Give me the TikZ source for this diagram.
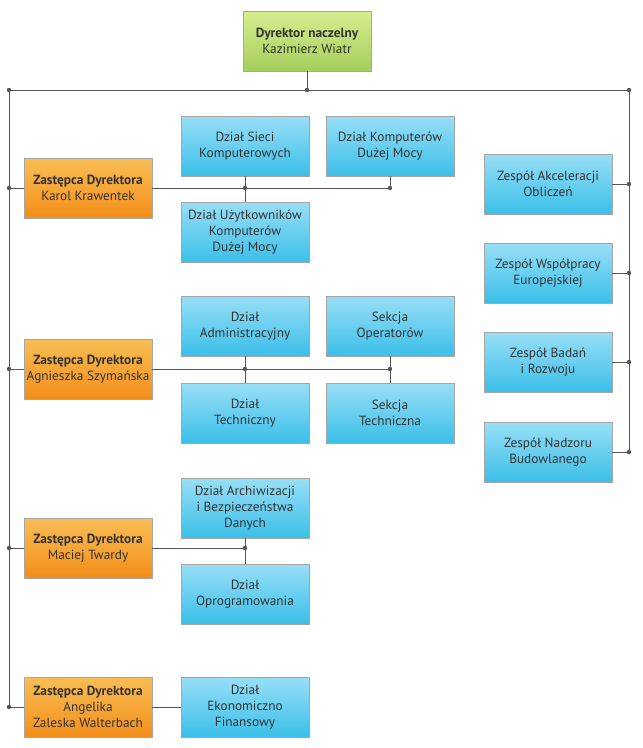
\documentclass[tikz,border=0pt]{standalone}
\usepackage{fontspec}
\setmainfont{PT Sans}
\usetikzlibrary{shadows}
\definecolor{zielonyG}{HTML}{D6EE90}
\definecolor{zielonyD}{HTML}{A5CE5C}
\definecolor{pomaranczG}{HTML}{F9BE55}
\definecolor{pomaranczD}{HTML}{F38E1A}
\definecolor{niebieskiG}{HTML}{98DFF6}
\definecolor{niebieskiD}{HTML}{3BBFE9}
\definecolor{liniaK}{HTML}{555555}
\tikzset{
  box/.style={minimum width=128pt, minimum height=60pt, inner sep=0pt, align=center,
    draw=black!35, line width=0.6pt, text=black!80, font=\fontsize{13.3}{16.3}\selectfont,
    drop shadow={shadow xshift=1.3pt, shadow yshift=-1.3pt, opacity=0.35, fill=black}},
  dyrektor/.style={box, top color=zielonyG, bottom color=zielonyD},
  zastepca/.style={box, top color=pomaranczG, bottom color=pomaranczD},
  dzial/.style={box, top color=niebieskiG, bottom color=niebieskiD},
  linia/.style={draw=liniaK, line width=0.8pt},
  kropka/.style={fill=liniaK}
}
\begin{document}
\begin{tikzpicture}[x=1pt, y=-1pt]
\useasboundingbox (0,0) rectangle (643,748);
\node[dyrektor] (dyr) at (307,41) {\textbf{Dyrektor naczelny}\\Kazimierz Wiatr};

\node[zastepca] (karol) at (88,188) {\textbf{Zastępca Dyrektora}\\Karol Krawentek};
\node[zastepca] (agnieszka) at (88,369) {\textbf{Zastępca Dyrektora}\\Agnieszka Szymańska};
\node[zastepca] (maciej) at (88,548) {\textbf{Zastępca Dyrektora}\\Maciej Twardy};
\node[zastepca] (angelika) at (88,707) {\textbf{Zastępca Dyrektora}\\Angelika\\Zaleska Walterbach};

\node[dzial] (sieci) at (245,146) {Dział Sieci\\Komputerowych};
\node[dzial] (komputery) at (390,146) {Dział Komputerów\\Dużej Mocy};
\node[dzial] (uzytkownicy) at (245,232) {Dział Użytkowników\\Komputerów\\Dużej Mocy};
\node[dzial] (admin) at (245,326) {Dział\\Administracyjny};
\node[dzial] (operatorzy) at (390,326) {Sekcja\\Operatorów};
\node[dzial] (techniczny) at (245,413) {Dział\\Techniczny};
\node[dzial] (sekcjatech) at (390,413) {Sekcja\\Techniczna};
\node[dzial] (archiwum) at (245,508) {Dział Archiwizacji\\i Bezpieczeństwa\\Danych};
\node[dzial] (oprog) at (245,594) {Dział\\Oprogramowania};
\node[dzial] (ekonom) at (245,707) {Dział\\Ekonomiczno\\Finansowy};

\node[dzial] (akceleracja) at (548,184) {Zespół Akceleracji\\Obliczeń};
\node[dzial] (wspolpraca) at (548,273) {Zespół Współpracy\\Europejskiej};
\node[dzial] (badania) at (548,362) {Zespół Badań\\i Rozwoju};
\node[dzial] (nadzor) at (548,452) {Zespół Nadzoru\\Budowlanego};

\coordinate (lewa) at (9,90);
\coordinate (prawa) at (629,90);
\coordinate (srodek) at (dyr.south |- lewa);

% szyna glowna
\draw[linia] (dyr.south) -- (srodek);
\draw[linia] (lewa) -- (prawa);
\draw[linia] (lewa) -- (lewa |- angelika);
\draw[linia] (prawa) -- (prawa |- nadzor);
\foreach \z in {karol,agnieszka,maciej,angelika}
  \draw[linia] (lewa |- \z) -- (\z.west);
\foreach \z in {akceleracja,wspolpraca,badania,nadzor}
  \draw[linia] (\z.east) -- (prawa |- \z);

% dzialy zastepcow
\draw[linia] (karol.east) -- (komputery.south |- karol);
\draw[linia] (sieci.south) -- (uzytkownicy.north);
\draw[linia] (komputery.south) -- (komputery.south |- karol);
\draw[linia] (agnieszka.east) -- (operatorzy.south |- agnieszka);
\draw[linia] (admin.south) -- (techniczny.north);
\draw[linia] (operatorzy.south) -- (sekcjatech.north);
\draw[linia] (maciej.east) -- (archiwum.south |- maciej);
\draw[linia] (archiwum.south) -- (oprog.north);
\draw[linia] (angelika.east) -- (ekonom.west);

\foreach \p in {lewa, prawa, srodek, lewa |- karol, lewa |- agnieszka, lewa |- maciej,
  lewa |- angelika, prawa |- akceleracja, prawa |- wspolpraca, prawa |- badania,
  prawa |- nadzor, sieci.south |- karol, komputery.south |- karol,
  admin.south |- agnieszka, operatorzy.south |- agnieszka, archiwum.south |- maciej}
  \fill[kropka] (\p) circle (2.2pt);
\end{tikzpicture}
\end{document}
